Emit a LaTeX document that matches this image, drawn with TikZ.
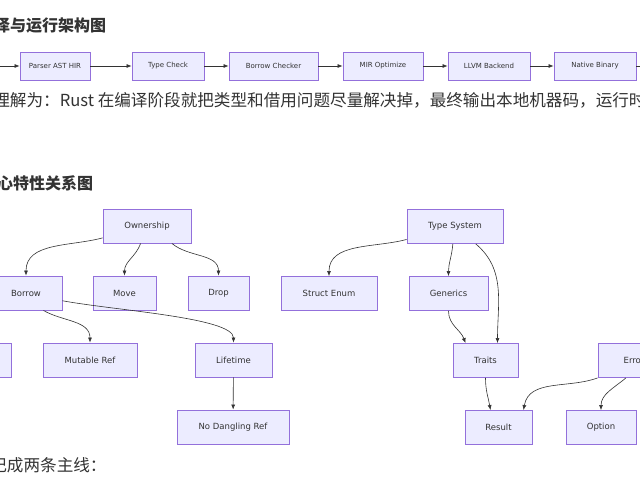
\documentclass[tikz,border=0pt]{standalone}
\usepackage{fontspec}
\setmainfont{Noto Sans CJK SC}
\newfontfamily\flowfont{DejaVu Sans}
\usetikzlibrary{arrows.meta, calc}

\definecolor{boxfill}{HTML}{ECECFF}
\definecolor{boxline}{HTML}{9370DB}
\definecolor{inkgray}{HTML}{333333}

\tikzset{
    box/.style={draw=boxline,fill=boxfill,line width=0.9pt,inner sep=0pt,
        text=inkgray,font=\flowfont\fontsize{8.5}{10}\selectfont},
    flowbox/.style={box,minimum height=28pt,font=\flowfont\fontsize{7}{8}\selectfont},
    arr/.style={draw=inkgray,line width=0.6pt,-{Latex[length=5pt,width=4pt]}},
    page/.style={text=inkgray,inner sep=0pt,anchor=west}
}

\begin{document}
\begin{tikzpicture}[x=1pt,y=-1pt]
\useasboundingbox (0,0) rectangle (640,480);
\clip (0,0) rectangle (640,480);
\fill[white] (0,0) rectangle (640,480);

% headings and text lines
\node[page,font=\fontsize{16}{16}\selectfont\bfseries] (head1) at (-22,25) {编译与运行架构图};
\node[page,font=\fontsize{16.6}{17}\selectfont] (line1) at (-40,100) {可以理解为：Rust 在编译阶段就把类型和借用问题尽量解决掉，最终输出本地机器码，运行时开销很小。};
\node[page,font=\fontsize{16}{16}\selectfont\bfseries] (head2) at (-19,183) {核心特性关系图};
\node[page,font=\fontsize{16.6}{17}\selectfont] (line2) at (-43,465) {可以记成两条主线：};

% compile pipeline
\node[flowbox,minimum width=60pt] (src) at (-40,66) {};
\node[flowbox,minimum width=70pt] (par) at (55,66) {Parser AST HIR};
\node[flowbox,minimum width=72pt] (tck) at (168,66) {Type Check};
\node[flowbox,minimum width=89pt] (bck) at (273.5,66) {Borrow Checker};
\node[flowbox,minimum width=80pt] (mir) at (383,66) {MIR Optimize};
\node[flowbox,minimum width=82pt] (llv) at (489,66) {LLVM Backend};
\node[flowbox,minimum width=82pt] (nat) at (595,66) {Native Binary};
\node[flowbox,minimum width=60pt] (run) at (690,66) {};

\foreach \a/\b in {src/par,par/tck,tck/bck,bck/mir,mir/llv,llv/nat,nat/run}
    \draw[arr] (\a) -- (\b);

% ownership tree
\node[box,minimum width=88pt,minimum height=34pt] (own) at (147,226) {Ownership};
\node[box,minimum width=72pt,minimum height=34pt] (bor) at (26,293) {Borrow};
\node[box,minimum width=63pt,minimum height=34pt] (mov) at (124.5,293) {Move};
\node[box,minimum width=61pt,minimum height=34pt] (drp) at (218.5,293) {Drop};
\node[box,minimum width=72pt,minimum height=34pt] (shr) at (-25,360) {};
\node[box,minimum width=94pt,minimum height=34pt] (mut) at (90,360) {Mutable Ref};
\node[box,minimum width=77pt,minimum height=34pt] (lif) at (233.5,360) {Lifetime};
\node[box,minimum width=112pt,minimum height=34pt] (nod) at (233,427) {No Dangling Ref};

\draw[arr] (own) to[out=195,in=90] (bor);
\draw[arr] (own.-110) to[out=-110,in=90] (mov);
\draw[arr] (own.-35) to[out=-40,in=90] (drp);
\draw[arr] (bor.-45) to[out=-30,in=90] (mut);
\draw[arr] (bor.-12) .. controls ($(mov.south)+(-10,0)$) and ($(lif.north)+(0,-25)$) .. (lif.north);
\draw[arr] (lif) -- (nod);

% type system tree
\node[box,minimum width=96pt,minimum height=34pt] (tys) at (455,226.5) {Type System};
\node[box,minimum width=96pt,minimum height=34pt] (ste) at (329,293.5) {Struct Enum};
\node[box,minimum width=79pt,minimum height=34pt] (gen) at (448.5,293.5) {Generics};
\node[box,minimum width=65pt,minimum height=34pt] (trt) at (485.5,360.5) {Traits};
\node[box,minimum width=72pt,minimum height=34pt] (err) at (634,360.5) {Error};
\node[box,minimum width=67pt,minimum height=34pt] (res) at (498.5,427.5) {Result};
\node[box,minimum width=70pt,minimum height=34pt] (opt) at (601,427.5) {Option};

\draw[arr] (tys) to[out=195,in=90] (ste);
\draw[arr] (tys.-97) to[out=-95,in=90] (gen);
\draw[arr] (tys.-40) to[out=-40,in=90] ($(trt.north)+(12,0)$);
\draw[arr] (gen) to[out=-90,in=110] ($(trt.north)+(-20,0)$);
\draw[arr] (trt) to[out=-90,in=100] ($(res.north)+(-8,0)$);
\draw[arr] (err.south west) to[out=200,in=80] ($(res.north)+(25,0)$);
\draw[arr] (err.-115) to[out=-140,in=90] (opt);
\end{tikzpicture}
\end{document}
